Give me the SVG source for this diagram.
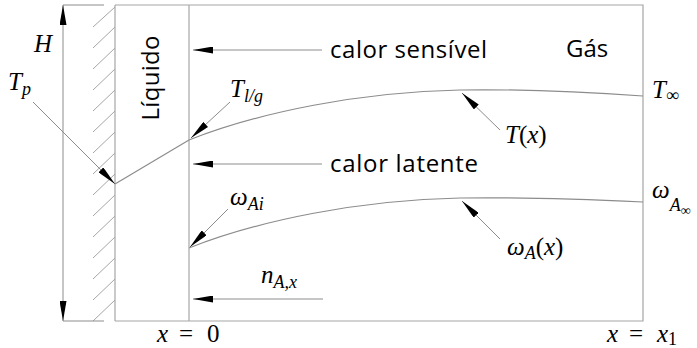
<svg xmlns="http://www.w3.org/2000/svg" width="697" height="348" viewBox="0 0 697 348">
<style>
.frame{fill:none;stroke:#a6a6a6;stroke-width:1.2}
.hatch{stroke:#a6a6a6;stroke-width:1}
.lead{fill:none;stroke:#8c8c8c;stroke-width:1}
.curve{fill:none;stroke:#8c8c8c;stroke-width:1.2}
.lbl{font-family:"Open Sans","Liberation Sans",sans-serif;font-size:24px;fill:#000}
.m{font-family:"Liberation Serif","DejaVu Serif",serif;font-style:italic;font-size:25px;fill:#000}
.mr{font-style:normal}
.s{font-size:18px}
</style>
<defs>
<marker id="ah" markerUnits="userSpaceOnUse" markerWidth="20" markerHeight="7" refX="20" refY="3.5" orient="auto">
<path d="M0,0 L20,3.5 L0,7 Z" fill="#000"/>
</marker>
</defs>

<g id="wall">
<line class="frame" x1="115" y1="5" x2="115" y2="321"/>
<g class="hatch">
<line x1="93" y1="27" x2="115" y2="7"/>
<line x1="93" y1="48" x2="115" y2="27"/>
<line x1="93" y1="69" x2="115" y2="48"/>
<line x1="93" y1="90" x2="115" y2="69"/>
<line x1="93" y1="111" x2="115" y2="90"/>
<line x1="93" y1="132" x2="115" y2="111"/>
<line x1="93" y1="153" x2="115" y2="132"/>
<line x1="93" y1="174" x2="115" y2="153"/>
<line x1="93" y1="195" x2="115" y2="174"/>
<line x1="93" y1="216" x2="115" y2="195"/>
<line x1="93" y1="237" x2="115" y2="216"/>
<line x1="93" y1="258" x2="115" y2="237"/>
<line x1="93" y1="279" x2="115" y2="258"/>
<line x1="93" y1="300" x2="115" y2="279"/>
<line x1="93" y1="321" x2="115" y2="300"/>
</g>
</g>

<g id="domain">
<polyline class="frame" points="115,5 643,5 643,321 115,321"/>
<line class="frame" x1="189" y1="5" x2="189" y2="321"/>
</g>

<g id="liquido">
<text class="lbl" transform="translate(159,78) rotate(-90)" text-anchor="middle" textLength="85" lengthAdjust="spacing">Líquido</text>
</g>
<g id="gas"><text class="lbl" x="566" y="57">Gás</text></g>

<g id="dimension-H">
<line class="lead" x1="63" y1="5" x2="104" y2="5"/>
<line class="lead" x1="63" y1="321" x2="104" y2="321"/>
<line class="lead" x1="63" y1="160" x2="63" y2="5" marker-end="url(#ah)"/>
<line class="lead" x1="63" y1="160" x2="63" y2="321" marker-end="url(#ah)"/>
<text class="m" x="34" y="52">H</text>
</g>

<g id="profiles">
<polyline class="curve" points="115,184 189,140"/>
<path class="curve" d="M189,140 C260,112 360,92 460,90 C520,89 600,93 643,96"/>
<path class="curve" d="M189,248 C260,220 360,200 460,198 C520,197 600,200 643,202"/>
</g>

<g id="connectors">
<line class="lead" x1="33" y1="102" x2="115" y2="184" marker-end="url(#ah)"/>
<line class="lead" x1="230" y1="102" x2="191" y2="138" marker-end="url(#ah)"/>
<line class="lead" x1="500" y1="130" x2="462" y2="93" marker-end="url(#ah)"/>
<line class="lead" x1="228" y1="209" x2="190" y2="247" marker-end="url(#ah)"/>
<line class="lead" x1="500" y1="239" x2="462" y2="201" marker-end="url(#ah)"/>
<line class="lead" x1="322" y1="50" x2="193" y2="50" marker-end="url(#ah)"/>
<line class="lead" x1="322" y1="164" x2="193" y2="164" marker-end="url(#ah)"/>
<line class="lead" x1="323" y1="299" x2="193" y2="299" marker-end="url(#ah)"/>
</g>

<g id="calor-sensivel"><text class="lbl" x="330" y="58" textLength="157" lengthAdjust="spacing">calor sensível</text></g>
<g id="calor-latente"><text class="lbl" x="330" y="172" textLength="148" lengthAdjust="spacing">calor latente</text></g>

<g id="Tp"><text class="m" x="8" y="90">T<tspan class="s" dy="5">p</tspan></text></g>
<g id="Tlg"><text class="m" x="230" y="97">T<tspan class="s" dy="5">l/g</tspan></text></g>
<g id="Tx"><text class="m" x="505" y="143">T<tspan class="mr">(</tspan>x<tspan class="mr">)</tspan></text></g>
<g id="Tinf"><text class="m" x="652" y="98">T<tspan class="s mr" dy="3">∞</tspan></text></g>
<g id="wAi"><text class="m" x="230" y="205">ω<tspan class="s" dy="5">Ai</tspan></text></g>
<g id="wAx"><text class="m" x="507" y="255">ω<tspan class="s" dy="4">A</tspan><tspan class="mr" dy="-4">(</tspan>x<tspan class="mr">)</tspan></text></g>
<g id="wAinf"><text class="m" x="652" y="198">ω<tspan class="s" dy="13">A</tspan><tspan class="mr" font-size="14" dy="4">∞</tspan></text></g>
<g id="nAx"><text class="m" x="261" y="283">n<tspan class="s" dy="5">A,x</tspan></text></g>
<g id="x0"><text class="m" x="157" y="342">x<tspan class="mr" x="179">=</tspan><tspan class="mr" x="207">0</tspan></text></g>
<g id="x1"><text class="m" x="607" y="342">x<tspan class="mr" x="629">=</tspan><tspan x="657">x</tspan><tspan class="mr s" dy="3">1</tspan></text></g>
</svg>
